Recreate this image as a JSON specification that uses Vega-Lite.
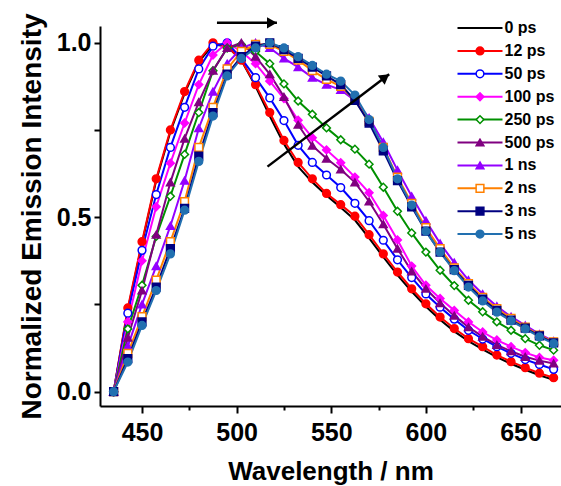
{
"$schema": "https://vega.github.io/schema/vega-lite/v6.json",
"width": 461, "height": 380,
"autosize": {"type": "none"},
"padding": {"left": 100, "top": 26, "right": 0, "bottom": 80},
"background": "white",
"config": {
 "view": {"stroke": null},
 "font": "Liberation Sans",
 "axis": {"grid": false, "domainColor": "black", "domainWidth": 2, "tickColor": "black", "tickWidth": 2,
  "labelFont": "Liberation Sans", "labelFontWeight": "bold", "labelFontSize": 25, "labelColor": "black",
  "titleFont": "Liberation Sans", "titleFontWeight": "bold", "titleColor": "black", "labelFlush": false, "labelOverlap": false},
 "legend": {"padding": 0, "labelFont": "Liberation Sans", "labelFontWeight": "bold", "labelFontSize": 16, "labelColor": "black"}
},
"datasets": {
"spectra": [
{"series":"0 ps","wavelength":435,"intensity":0},{"series":"0 ps","wavelength":442.5,"intensity":0.235},{"series":"0 ps","wavelength":450,"intensity":0.425},{"series":"0 ps","wavelength":457.5,"intensity":0.605},{"series":"0 ps","wavelength":465,"intensity":0.745},{"series":"0 ps","wavelength":472.5,"intensity":0.855},{"series":"0 ps","wavelength":480,"intensity":0.945},{"series":"0 ps","wavelength":487.5,"intensity":0.995},{"series":"0 ps","wavelength":495,"intensity":0.99},{"series":"0 ps","wavelength":502.5,"intensity":0.95},{"series":"0 ps","wavelength":510,"intensity":0.875},{"series":"0 ps","wavelength":517.5,"intensity":0.79},{"series":"0 ps","wavelength":525,"intensity":0.71},{"series":"0 ps","wavelength":532.5,"intensity":0.645},{"series":"0 ps","wavelength":540,"intensity":0.6},{"series":"0 ps","wavelength":547.5,"intensity":0.562},{"series":"0 ps","wavelength":555,"intensity":0.528},{"series":"0 ps","wavelength":562.5,"intensity":0.492},{"series":"0 ps","wavelength":570,"intensity":0.44},{"series":"0 ps","wavelength":577.5,"intensity":0.386},{"series":"0 ps","wavelength":585,"intensity":0.334},{"series":"0 ps","wavelength":592.5,"intensity":0.287},{"series":"0 ps","wavelength":600,"intensity":0.244},{"series":"0 ps","wavelength":607.5,"intensity":0.206},{"series":"0 ps","wavelength":615,"intensity":0.173},{"series":"0 ps","wavelength":622.5,"intensity":0.145},{"series":"0 ps","wavelength":630,"intensity":0.121},{"series":"0 ps","wavelength":637.5,"intensity":0.099},{"series":"0 ps","wavelength":645,"intensity":0.08},{"series":"0 ps","wavelength":652.5,"intensity":0.063},{"series":"0 ps","wavelength":660,"intensity":0.047},{"series":"0 ps","wavelength":667.5,"intensity":0.034},
{"series":"12 ps","wavelength":435,"intensity":0},{"series":"12 ps","wavelength":442.5,"intensity":0.24},{"series":"12 ps","wavelength":450,"intensity":0.43},{"series":"12 ps","wavelength":457.5,"intensity":0.61},{"series":"12 ps","wavelength":465,"intensity":0.75},{"series":"12 ps","wavelength":472.5,"intensity":0.86},{"series":"12 ps","wavelength":480,"intensity":0.95},{"series":"12 ps","wavelength":487.5,"intensity":1.0},{"series":"12 ps","wavelength":495,"intensity":0.99},{"series":"12 ps","wavelength":502.5,"intensity":0.95},{"series":"12 ps","wavelength":510,"intensity":0.88},{"series":"12 ps","wavelength":517.5,"intensity":0.8},{"series":"12 ps","wavelength":525,"intensity":0.72},{"series":"12 ps","wavelength":532.5,"intensity":0.657},{"series":"12 ps","wavelength":540,"intensity":0.61},{"series":"12 ps","wavelength":547.5,"intensity":0.568},{"series":"12 ps","wavelength":555,"intensity":0.536},{"series":"12 ps","wavelength":562.5,"intensity":0.503},{"series":"12 ps","wavelength":570,"intensity":0.45},{"series":"12 ps","wavelength":577.5,"intensity":0.395},{"series":"12 ps","wavelength":585,"intensity":0.343},{"series":"12 ps","wavelength":592.5,"intensity":0.295},{"series":"12 ps","wavelength":600,"intensity":0.252},{"series":"12 ps","wavelength":607.5,"intensity":0.214},{"series":"12 ps","wavelength":615,"intensity":0.181},{"series":"12 ps","wavelength":622.5,"intensity":0.152},{"series":"12 ps","wavelength":630,"intensity":0.129},{"series":"12 ps","wavelength":637.5,"intensity":0.105},{"series":"12 ps","wavelength":645,"intensity":0.086},{"series":"12 ps","wavelength":652.5,"intensity":0.069},{"series":"12 ps","wavelength":660,"intensity":0.053},{"series":"12 ps","wavelength":667.5,"intensity":0.04},
{"series":"50 ps","wavelength":435,"intensity":0},{"series":"50 ps","wavelength":442.5,"intensity":0.225},{"series":"50 ps","wavelength":450,"intensity":0.405},{"series":"50 ps","wavelength":457.5,"intensity":0.565},{"series":"50 ps","wavelength":465,"intensity":0.7},{"series":"50 ps","wavelength":472.5,"intensity":0.815},{"series":"50 ps","wavelength":480,"intensity":0.925},{"series":"50 ps","wavelength":487.5,"intensity":0.99},{"series":"50 ps","wavelength":495,"intensity":1.0},{"series":"50 ps","wavelength":502.5,"intensity":0.955},{"series":"50 ps","wavelength":510,"intensity":0.9},{"series":"50 ps","wavelength":517.5,"intensity":0.842},{"series":"50 ps","wavelength":525,"intensity":0.777},{"series":"50 ps","wavelength":532.5,"intensity":0.706},{"series":"50 ps","wavelength":540,"intensity":0.657},{"series":"50 ps","wavelength":547.5,"intensity":0.621},{"series":"50 ps","wavelength":555,"intensity":0.585},{"series":"50 ps","wavelength":562.5,"intensity":0.54},{"series":"50 ps","wavelength":570,"intensity":0.49},{"series":"50 ps","wavelength":577.5,"intensity":0.434},{"series":"50 ps","wavelength":585,"intensity":0.378},{"series":"50 ps","wavelength":592.5,"intensity":0.327},{"series":"50 ps","wavelength":600,"intensity":0.28},{"series":"50 ps","wavelength":607.5,"intensity":0.242},{"series":"50 ps","wavelength":615,"intensity":0.208},{"series":"50 ps","wavelength":622.5,"intensity":0.176},{"series":"50 ps","wavelength":630,"intensity":0.151},{"series":"50 ps","wavelength":637.5,"intensity":0.129},{"series":"50 ps","wavelength":645,"intensity":0.11},{"series":"50 ps","wavelength":652.5,"intensity":0.092},{"series":"50 ps","wavelength":660,"intensity":0.078},{"series":"50 ps","wavelength":667.5,"intensity":0.064},
{"series":"100 ps","wavelength":435,"intensity":0},{"series":"100 ps","wavelength":442.5,"intensity":0.2},{"series":"100 ps","wavelength":450,"intensity":0.375},{"series":"100 ps","wavelength":457.5,"intensity":0.53},{"series":"100 ps","wavelength":465,"intensity":0.655},{"series":"100 ps","wavelength":472.5,"intensity":0.77},{"series":"100 ps","wavelength":480,"intensity":0.88},{"series":"100 ps","wavelength":487.5,"intensity":0.965},{"series":"100 ps","wavelength":495,"intensity":1.0},{"series":"100 ps","wavelength":502.5,"intensity":0.975},{"series":"100 ps","wavelength":510,"intensity":0.94},{"series":"100 ps","wavelength":517.5,"intensity":0.89},{"series":"100 ps","wavelength":525,"intensity":0.84},{"series":"100 ps","wavelength":532.5,"intensity":0.778},{"series":"100 ps","wavelength":540,"intensity":0.728},{"series":"100 ps","wavelength":547.5,"intensity":0.693},{"series":"100 ps","wavelength":555,"intensity":0.656},{"series":"100 ps","wavelength":562.5,"intensity":0.615},{"series":"100 ps","wavelength":570,"intensity":0.57},{"series":"100 ps","wavelength":577.5,"intensity":0.505},{"series":"100 ps","wavelength":585,"intensity":0.435},{"series":"100 ps","wavelength":592.5,"intensity":0.36},{"series":"100 ps","wavelength":600,"intensity":0.305},{"series":"100 ps","wavelength":607.5,"intensity":0.267},{"series":"100 ps","wavelength":615,"intensity":0.233},{"series":"100 ps","wavelength":622.5,"intensity":0.2},{"series":"100 ps","wavelength":630,"intensity":0.171},{"series":"100 ps","wavelength":637.5,"intensity":0.148},{"series":"100 ps","wavelength":645,"intensity":0.129},{"series":"100 ps","wavelength":652.5,"intensity":0.112},{"series":"100 ps","wavelength":660,"intensity":0.098},{"series":"100 ps","wavelength":667.5,"intensity":0.09},
{"series":"250 ps","wavelength":435,"intensity":0},{"series":"250 ps","wavelength":442.5,"intensity":0.18},{"series":"250 ps","wavelength":450,"intensity":0.305},{"series":"250 ps","wavelength":457.5,"intensity":0.445},{"series":"250 ps","wavelength":465,"intensity":0.56},{"series":"250 ps","wavelength":472.5,"intensity":0.68},{"series":"250 ps","wavelength":480,"intensity":0.8},{"series":"250 ps","wavelength":487.5,"intensity":0.92},{"series":"250 ps","wavelength":495,"intensity":0.985},{"series":"250 ps","wavelength":502.5,"intensity":0.995},{"series":"250 ps","wavelength":510,"intensity":0.975},{"series":"250 ps","wavelength":517.5,"intensity":0.94},{"series":"250 ps","wavelength":525,"intensity":0.882},{"series":"250 ps","wavelength":532.5,"intensity":0.833},{"series":"250 ps","wavelength":540,"intensity":0.795},{"series":"250 ps","wavelength":547.5,"intensity":0.756},{"series":"250 ps","wavelength":555,"intensity":0.722},{"series":"250 ps","wavelength":562.5,"intensity":0.695},{"series":"250 ps","wavelength":570,"intensity":0.652},{"series":"250 ps","wavelength":577.5,"intensity":0.586},{"series":"250 ps","wavelength":585,"intensity":0.517},{"series":"250 ps","wavelength":592.5,"intensity":0.455},{"series":"250 ps","wavelength":600,"intensity":0.4},{"series":"250 ps","wavelength":607.5,"intensity":0.348},{"series":"250 ps","wavelength":615,"intensity":0.304},{"series":"250 ps","wavelength":622.5,"intensity":0.262},{"series":"250 ps","wavelength":630,"intensity":0.229},{"series":"250 ps","wavelength":637.5,"intensity":0.2},{"series":"250 ps","wavelength":645,"intensity":0.176},{"series":"250 ps","wavelength":652.5,"intensity":0.152},{"series":"250 ps","wavelength":660,"intensity":0.133},{"series":"250 ps","wavelength":667.5,"intensity":0.119},
{"series":"500 ps","wavelength":435,"intensity":0},{"series":"500 ps","wavelength":442.5,"intensity":0.155},{"series":"500 ps","wavelength":450,"intensity":0.29},{"series":"500 ps","wavelength":457.5,"intensity":0.45},{"series":"500 ps","wavelength":465,"intensity":0.6},{"series":"500 ps","wavelength":472.5,"intensity":0.725},{"series":"500 ps","wavelength":480,"intensity":0.83},{"series":"500 ps","wavelength":487.5,"intensity":0.92},{"series":"500 ps","wavelength":495,"intensity":0.985},{"series":"500 ps","wavelength":502.5,"intensity":1.0},{"series":"500 ps","wavelength":510,"intensity":0.96},{"series":"500 ps","wavelength":517.5,"intensity":0.91},{"series":"500 ps","wavelength":525,"intensity":0.845},{"series":"500 ps","wavelength":532.5,"intensity":0.765},{"series":"500 ps","wavelength":540,"intensity":0.705},{"series":"500 ps","wavelength":547.5,"intensity":0.668},{"series":"500 ps","wavelength":555,"intensity":0.637},{"series":"500 ps","wavelength":562.5,"intensity":0.6},{"series":"500 ps","wavelength":570,"intensity":0.545},{"series":"500 ps","wavelength":577.5,"intensity":0.48},{"series":"500 ps","wavelength":585,"intensity":0.41},{"series":"500 ps","wavelength":592.5,"intensity":0.345},{"series":"500 ps","wavelength":600,"intensity":0.295},{"series":"500 ps","wavelength":607.5,"intensity":0.254},{"series":"500 ps","wavelength":615,"intensity":0.218},{"series":"500 ps","wavelength":622.5,"intensity":0.185},{"series":"500 ps","wavelength":630,"intensity":0.158},{"series":"500 ps","wavelength":637.5,"intensity":0.134},{"series":"500 ps","wavelength":645,"intensity":0.116},{"series":"500 ps","wavelength":652.5,"intensity":0.1},{"series":"500 ps","wavelength":660,"intensity":0.089},{"series":"500 ps","wavelength":667.5,"intensity":0.081},
{"series":"1 ns","wavelength":435,"intensity":0},{"series":"1 ns","wavelength":442.5,"intensity":0.13},{"series":"1 ns","wavelength":450,"intensity":0.25},{"series":"1 ns","wavelength":457.5,"intensity":0.36},{"series":"1 ns","wavelength":465,"intensity":0.475},{"series":"1 ns","wavelength":472.5,"intensity":0.605},{"series":"1 ns","wavelength":480,"intensity":0.755},{"series":"1 ns","wavelength":487.5,"intensity":0.86},{"series":"1 ns","wavelength":495,"intensity":0.94},{"series":"1 ns","wavelength":502.5,"intensity":0.985},{"series":"1 ns","wavelength":510,"intensity":1.0},{"series":"1 ns","wavelength":517.5,"intensity":0.985},{"series":"1 ns","wavelength":525,"intensity":0.955},{"series":"1 ns","wavelength":532.5,"intensity":0.93},{"series":"1 ns","wavelength":540,"intensity":0.9},{"series":"1 ns","wavelength":547.5,"intensity":0.88},{"series":"1 ns","wavelength":555,"intensity":0.865},{"series":"1 ns","wavelength":562.5,"intensity":0.835},{"series":"1 ns","wavelength":570,"intensity":0.785},{"series":"1 ns","wavelength":577.5,"intensity":0.715},{"series":"1 ns","wavelength":585,"intensity":0.635},{"series":"1 ns","wavelength":592.5,"intensity":0.56},{"series":"1 ns","wavelength":600,"intensity":0.49},{"series":"1 ns","wavelength":607.5,"intensity":0.425},{"series":"1 ns","wavelength":615,"intensity":0.37},{"series":"1 ns","wavelength":622.5,"intensity":0.32},{"series":"1 ns","wavelength":630,"intensity":0.28},{"series":"1 ns","wavelength":637.5,"intensity":0.245},{"series":"1 ns","wavelength":645,"intensity":0.215},{"series":"1 ns","wavelength":652.5,"intensity":0.19},{"series":"1 ns","wavelength":660,"intensity":0.165},{"series":"1 ns","wavelength":667.5,"intensity":0.145},
{"series":"2 ns","wavelength":435,"intensity":0},{"series":"2 ns","wavelength":442.5,"intensity":0.11},{"series":"2 ns","wavelength":450,"intensity":0.215},{"series":"2 ns","wavelength":457.5,"intensity":0.32},{"series":"2 ns","wavelength":465,"intensity":0.43},{"series":"2 ns","wavelength":472.5,"intensity":0.545},{"series":"2 ns","wavelength":480,"intensity":0.7},{"series":"2 ns","wavelength":487.5,"intensity":0.815},{"series":"2 ns","wavelength":495,"intensity":0.925},{"series":"2 ns","wavelength":502.5,"intensity":0.975},{"series":"2 ns","wavelength":510,"intensity":0.995},{"series":"2 ns","wavelength":517.5,"intensity":0.995},{"series":"2 ns","wavelength":525,"intensity":0.975},{"series":"2 ns","wavelength":532.5,"intensity":0.95},{"series":"2 ns","wavelength":540,"intensity":0.92},{"series":"2 ns","wavelength":547.5,"intensity":0.895},{"series":"2 ns","wavelength":555,"intensity":0.875},{"series":"2 ns","wavelength":562.5,"intensity":0.835},{"series":"2 ns","wavelength":570,"intensity":0.775},{"series":"2 ns","wavelength":577.5,"intensity":0.7},{"series":"2 ns","wavelength":585,"intensity":0.615},{"series":"2 ns","wavelength":592.5,"intensity":0.54},{"series":"2 ns","wavelength":600,"intensity":0.47},{"series":"2 ns","wavelength":607.5,"intensity":0.41},{"series":"2 ns","wavelength":615,"intensity":0.355},{"series":"2 ns","wavelength":622.5,"intensity":0.31},{"series":"2 ns","wavelength":630,"intensity":0.27},{"series":"2 ns","wavelength":637.5,"intensity":0.238},{"series":"2 ns","wavelength":645,"intensity":0.21},{"series":"2 ns","wavelength":652.5,"intensity":0.185},{"series":"2 ns","wavelength":660,"intensity":0.162},{"series":"2 ns","wavelength":667.5,"intensity":0.143},
{"series":"3 ns","wavelength":435,"intensity":0},{"series":"3 ns","wavelength":442.5,"intensity":0.095},{"series":"3 ns","wavelength":450,"intensity":0.2},{"series":"3 ns","wavelength":457.5,"intensity":0.3},{"series":"3 ns","wavelength":465,"intensity":0.41},{"series":"3 ns","wavelength":472.5,"intensity":0.525},{"series":"3 ns","wavelength":480,"intensity":0.675},{"series":"3 ns","wavelength":487.5,"intensity":0.8},{"series":"3 ns","wavelength":495,"intensity":0.91},{"series":"3 ns","wavelength":502.5,"intensity":0.96},{"series":"3 ns","wavelength":510,"intensity":0.99},{"series":"3 ns","wavelength":517.5,"intensity":1.0},{"series":"3 ns","wavelength":525,"intensity":0.98},{"series":"3 ns","wavelength":532.5,"intensity":0.955},{"series":"3 ns","wavelength":540,"intensity":0.93},{"series":"3 ns","wavelength":547.5,"intensity":0.905},{"series":"3 ns","wavelength":555,"intensity":0.88},{"series":"3 ns","wavelength":562.5,"intensity":0.835},{"series":"3 ns","wavelength":570,"intensity":0.77},{"series":"3 ns","wavelength":577.5,"intensity":0.69},{"series":"3 ns","wavelength":585,"intensity":0.605},{"series":"3 ns","wavelength":592.5,"intensity":0.53},{"series":"3 ns","wavelength":600,"intensity":0.46},{"series":"3 ns","wavelength":607.5,"intensity":0.4},{"series":"3 ns","wavelength":615,"intensity":0.35},{"series":"3 ns","wavelength":622.5,"intensity":0.305},{"series":"3 ns","wavelength":630,"intensity":0.265},{"series":"3 ns","wavelength":637.5,"intensity":0.233},{"series":"3 ns","wavelength":645,"intensity":0.205},{"series":"3 ns","wavelength":652.5,"intensity":0.182},{"series":"3 ns","wavelength":660,"intensity":0.16},{"series":"3 ns","wavelength":667.5,"intensity":0.14},
{"series":"5 ns","wavelength":435,"intensity":0},{"series":"5 ns","wavelength":442.5,"intensity":0.085},{"series":"5 ns","wavelength":450,"intensity":0.19},{"series":"5 ns","wavelength":457.5,"intensity":0.29},{"series":"5 ns","wavelength":465,"intensity":0.395},{"series":"5 ns","wavelength":472.5,"intensity":0.52},{"series":"5 ns","wavelength":480,"intensity":0.66},{"series":"5 ns","wavelength":487.5,"intensity":0.79},{"series":"5 ns","wavelength":495,"intensity":0.905},{"series":"5 ns","wavelength":502.5,"intensity":0.955},{"series":"5 ns","wavelength":510,"intensity":0.985},{"series":"5 ns","wavelength":517.5,"intensity":1.0},{"series":"5 ns","wavelength":525,"intensity":0.985},{"series":"5 ns","wavelength":532.5,"intensity":0.96},{"series":"5 ns","wavelength":540,"intensity":0.935},{"series":"5 ns","wavelength":547.5,"intensity":0.91},{"series":"5 ns","wavelength":555,"intensity":0.89},{"series":"5 ns","wavelength":562.5,"intensity":0.85},{"series":"5 ns","wavelength":570,"intensity":0.78},{"series":"5 ns","wavelength":577.5,"intensity":0.7},{"series":"5 ns","wavelength":585,"intensity":0.61},{"series":"5 ns","wavelength":592.5,"intensity":0.535},{"series":"5 ns","wavelength":600,"intensity":0.46},{"series":"5 ns","wavelength":607.5,"intensity":0.4},{"series":"5 ns","wavelength":615,"intensity":0.347},{"series":"5 ns","wavelength":622.5,"intensity":0.3},{"series":"5 ns","wavelength":630,"intensity":0.26},{"series":"5 ns","wavelength":637.5,"intensity":0.228},{"series":"5 ns","wavelength":645,"intensity":0.203},{"series":"5 ns","wavelength":652.5,"intensity":0.18},{"series":"5 ns","wavelength":660,"intensity":0.157},{"series":"5 ns","wavelength":667.5,"intensity":0.138}
],
"arrows": [
{"id":"h","x0":489.6,"y0":1.057,"x1":521.3,"y1":1.057},
{"id":"d","x0":516.3,"y0":0.645,"x1":580.6,"y1":0.91}
]
},
"layer": [
{
 "data": {"name": "spectra"},
 "mark": {"type": "line", "strokeWidth": 2},
 "encoding": {
  "x": {"field": "wavelength", "type": "quantitative",
   "scale": {"domain": [427.8, 671.4], "nice": false, "zero": false},
   "axis": {"title": "Wavelength / nm", "titleFontSize": 26, "titleX": 230.5, "titleY": 73, "titleBaseline": "alphabetic",
    "values": [450, 475, 500, 525, 550, 575, 600, 625, 650],
    "labelExpr": "datum.value % 50 === 0 ? datum.label : ''",
    "tickSize": {"condition": {"test": "datum.value % 50 === 0", "value": 7}, "value": 4},
    "labelPadding": 7}},
  "y": {"field": "intensity", "type": "quantitative",
   "scale": {"domain": [-0.041, 1.048], "nice": false, "zero": false},
   "axis": {"title": "Normalized Emission Intensity", "titleFontSize": 28, "titleX": -60, "titleY": 190, "titleBaseline": "alphabetic",
    "values": [0, 0.25, 0.5, 0.75, 1],
    "labelExpr": "datum.value === 0 || datum.value === 0.5 || datum.value === 1 ? format(datum.value, '.1f') : ''",
    "tickSize": 6, "labelPadding": 3}},
  "color": {"field": "series", "type": "nominal",
   "scale": {"domain": ["0 ps","12 ps","50 ps","100 ps","250 ps","500 ps","1 ns","2 ns","3 ns","5 ns"],
    "range": ["#000000","#FF0000","#0000FF","#FF00FF","#009000","#800080","#9400FF","#FF8000","#000080","#2270B0"]},
   "legend": {"title": null, "orient": "none", "legendX": 356.5, "legendY": -7, "symbolType": "stroke", "symbolSize": 2025,
    "symbolStrokeWidth": 2, "clipHeight": 18, "rowPadding": 4.9, "labelOffset": 1}}
 }
},
{
 "data": {"name": "spectra"},
 "mark": {"type": "point", "filled": true, "size": 60, "strokeWidth": 1.5, "opacity": 1},
 "encoding": {
  "x": {"field": "wavelength", "type": "quantitative"},
  "y": {"field": "intensity", "type": "quantitative"},
  "stroke": {"field": "series", "type": "nominal",
   "scale": {"domain": ["0 ps","12 ps","50 ps","100 ps","250 ps","500 ps","1 ns","2 ns","3 ns","5 ns"],
    "range": ["transparent","#FF0000","#0000FF","#FF00FF","#009000","#800080","#9400FF","#FF8000","#000080","#2270B0"]},
   "legend": {"title": null, "orient": "none", "legendX": 372, "legendY": -7, "symbolSize": 60, "symbolStrokeWidth": 1.5,
    "clipHeight": 18, "rowPadding": 4.9, "labelExpr": "''", "symbolOpacity": 1}},
  "fill": {"field": "series", "type": "nominal",
   "scale": {"domain": ["0 ps","12 ps","50 ps","100 ps","250 ps","500 ps","1 ns","2 ns","3 ns","5 ns"],
    "range": ["transparent","#FF0000","#FFFFFF","#FF00FF","#FFFFFF","#800080","#9400FF","#FFFFFF","#000080","#2270B0"]},
   "legend": {"title": null, "orient": "none", "legendX": 372, "legendY": -7, "symbolSize": 60, "symbolStrokeWidth": 1.5,
    "clipHeight": 18, "rowPadding": 4.9, "labelExpr": "''", "symbolOpacity": 1}},
  "shape": {"field": "series", "type": "nominal",
   "scale": {"domain": ["0 ps","12 ps","50 ps","100 ps","250 ps","500 ps","1 ns","2 ns","3 ns","5 ns"],
    "range": ["circle","circle","circle","diamond","diamond","triangle-up","triangle-up","square","square","circle"]},
   "legend": {"title": null, "orient": "none", "legendX": 372, "legendY": -7, "symbolSize": 60, "symbolStrokeWidth": 1.5,
    "clipHeight": 18, "rowPadding": 4.9, "labelExpr": "''", "symbolOpacity": 1}}
 }
},
{
 "data": {"name": "arrows"},
 "mark": {"type": "rule", "strokeWidth": 2.5, "color": "black"},
 "encoding": {
  "x": {"field": "x0", "type": "quantitative"},
  "y": {"field": "y0", "type": "quantitative"},
  "x2": {"field": "x1"},
  "y2": {"field": "y1"}
 }
},
{
 "data": {"name": "arrows"},
 "transform": [{"filter": "datum.id === 'h'"}],
 "mark": {"type": "point", "shape": "triangle-right", "filled": true, "color": "black", "opacity": 1, "size": 130, "xOffset": -5},
 "encoding": {
  "x": {"field": "x1", "type": "quantitative"},
  "y": {"field": "y1", "type": "quantitative"}
 }
},
{
 "data": {"name": "arrows"},
 "transform": [{"filter": "datum.id === 'd'"}],
 "mark": {"type": "point", "shape": "triangle-right", "filled": true, "color": "black", "opacity": 1, "size": 130, "angle": 322.8, "xOffset": -4, "yOffset": 3},
 "encoding": {
  "x": {"field": "x1", "type": "quantitative"},
  "y": {"field": "y1", "type": "quantitative"}
 }
}
],
"resolve": {"legend": {"stroke": "independent", "fill": "independent", "shape": "independent"}}
}
